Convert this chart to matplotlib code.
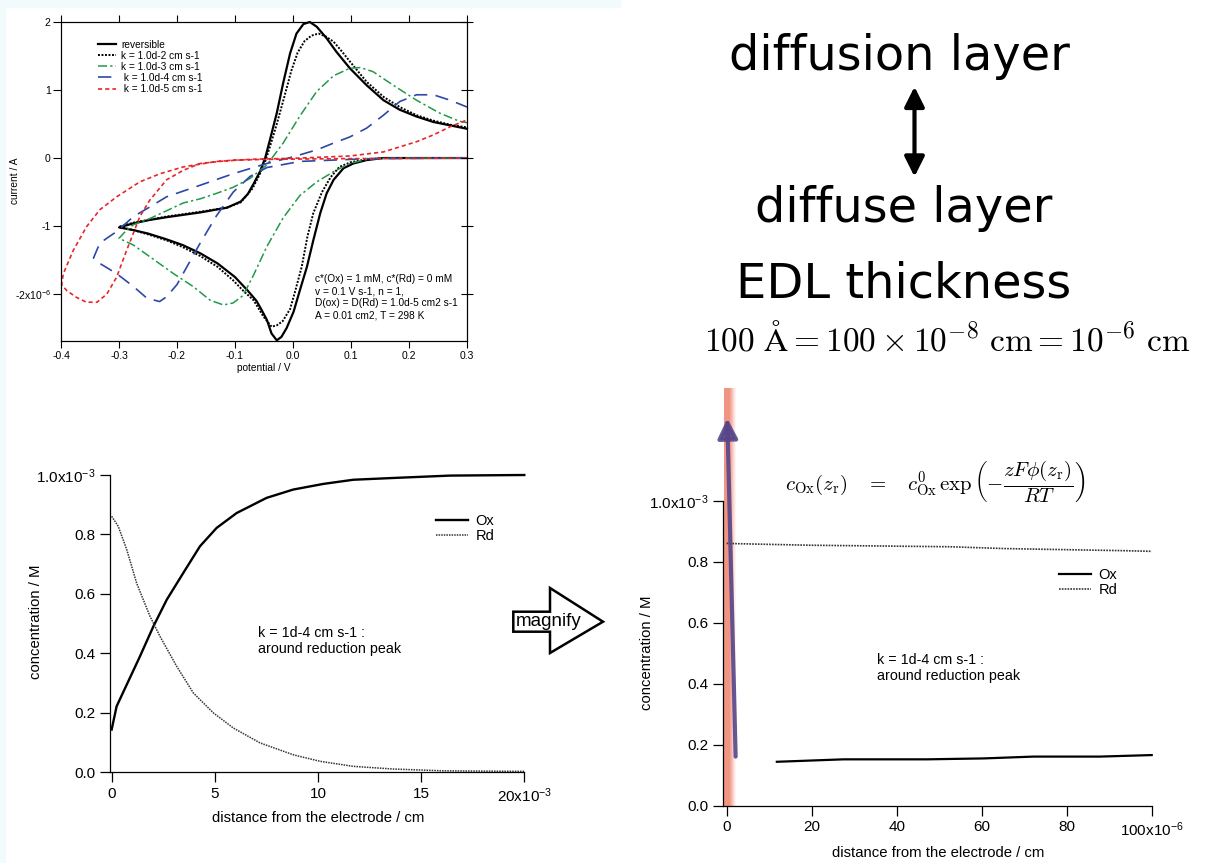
import matplotlib
matplotlib.use('Agg')
import matplotlib.pyplot as plt
from matplotlib.patches import Polygon, Rectangle, FancyArrowPatch

plt.rcParams['font.family'] = ['Liberation Sans', 'DejaVu Sans']
plt.rcParams['mathtext.fontset'] = 'custom'
plt.rcParams['mathtext.rm'] = 'Liberation Sans'
plt.rcParams['mathtext.it'] = 'Liberation Sans:italic'
plt.rcParams['axes.unicode_minus'] = False

# ---- cyclic voltammograms (potential / V, current / 1e-6 A), forward then reverse scan
E_REV = [0.300, 0.200, 0.156, 0.127, 0.104, 0.087, 0.070, 0.058, 0.047, 0.035, 0.024, 0.012, 0.001, -0.011,
         -0.020, -0.028, -0.037, -0.045, -0.055, -0.063, -0.078, -0.100, -0.130, -0.160, -0.190, -0.220, -0.250,
         -0.275, -0.300, -0.275, -0.247, -0.218, -0.160, -0.114, -0.090, -0.078, -0.068, -0.057, -0.048, -0.040,
         -0.028, -0.017, -0.005, 0.006, 0.018, 0.029, 0.041, 0.058, 0.075, 0.098, 0.127, 0.156, 0.184, 0.213,
         0.242, 0.271, 0.300]
I_REV = [0.00, 0.00, 0.00, -0.03, -0.08, -0.15, -0.32, -0.52, -0.81, -1.21, -1.60, -1.94, -2.26, -2.50,
         -2.63, -2.68, -2.58, -2.38, -2.22, -2.10, -1.95, -1.75, -1.55, -1.40, -1.28, -1.19, -1.11,
         -1.06, -1.02, -0.96, -0.91, -0.87, -0.80, -0.73, -0.64, -0.53, -0.38, -0.20, 0.00, 0.26,
         0.66, 1.10, 1.54, 1.83, 1.97, 2.00, 1.93, 1.76, 1.56, 1.32, 1.07, 0.85, 0.71, 0.61,
         0.53, 0.48, 0.43]

E_K2 = [0.300, 0.156, 0.127, 0.100, 0.080, 0.065, 0.050, 0.035, 0.025, 0.015, 0.004, -0.005, -0.018, -0.028,
        -0.037, -0.051, -0.068, -0.086, -0.103, -0.130, -0.160, -0.190, -0.218, -0.247, -0.275, -0.300,
        -0.275, -0.218, -0.160, -0.114, -0.090, -0.070, -0.058, -0.048, -0.040, -0.028, -0.015, -0.003,
        0.008, 0.020, 0.032, 0.044, 0.056, 0.070, 0.085, 0.098, 0.127, 0.156, 0.184, 0.213, 0.242, 0.271, 0.300]
I_K2 = [0.00, 0.00, -0.02, -0.06, -0.13, -0.28, -0.50, -0.81, -1.15, -1.60, -1.95, -2.22, -2.40, -2.46,
        -2.48, -2.33, -2.09, -1.95, -1.80, -1.60, -1.44, -1.31, -1.21, -1.13, -1.06, -1.01,
        -0.95, -0.86, -0.79, -0.73, -0.65, -0.45, -0.25, -0.05, 0.16, 0.50, 0.90, 1.28,
        1.55, 1.72, 1.80, 1.83, 1.79, 1.71, 1.56, 1.42, 1.12, 0.90, 0.75, 0.63, 0.55, 0.49, 0.45]

E_K3 = [0.300, 0.200, 0.156, 0.127, 0.098, 0.070, 0.041, 0.012, -0.017, -0.045, -0.068, -0.086, -0.103, -0.120,
        -0.143, -0.172, -0.206, -0.247, -0.275, -0.300, -0.287, -0.275, -0.247, -0.189, -0.160, -0.132, -0.103,
        -0.074, -0.045, -0.017, 0.012, 0.041, 0.070, 0.098, 0.116, 0.138, 0.173, 0.213, 0.253, 0.287, 0.300]
I_K3 = [0.00, 0.00, -0.005, -0.02, -0.08, -0.20, -0.35, -0.55, -0.88, -1.30, -1.72, -2.02, -2.13, -2.16,
        -2.09, -1.89, -1.70, -1.45, -1.28, -1.18, -1.06, -0.98, -0.89, -0.66, -0.60, -0.52, -0.43,
        -0.30, -0.10, 0.22, 0.62, 0.98, 1.21, 1.32, 1.33, 1.27, 1.07, 0.85, 0.66, 0.54, 0.52]

E_K4 = [0.300, 0.200, 0.127, 0.070, 0.012, -0.045, -0.074, -0.103, -0.132, -0.160, -0.183, -0.200, -0.218,
        -0.230, -0.252, -0.275, -0.304, -0.333, -0.344, -0.333, -0.304, -0.275, -0.247, -0.218, -0.160,
        -0.103, -0.045, 0.001, 0.041, 0.070, 0.098, 0.127, 0.156, 0.184, 0.213, 0.242, 0.271, 0.300]
I_K4 = [0.00, -0.005, -0.01, -0.03, -0.05, -0.14, -0.27, -0.50, -0.85, -1.25, -1.60, -1.86, -2.04,
        -2.11, -2.06, -1.89, -1.70, -1.55, -1.47, -1.25, -1.08, -0.86, -0.72, -0.57, -0.40,
        -0.23, -0.08, 0.02, 0.12, 0.22, 0.31, 0.44, 0.63, 0.83, 0.93, 0.93, 0.85, 0.75]

E_K5 = [0.300, 0.070, -0.045, -0.103, -0.160, -0.189, -0.218, -0.247, -0.264, -0.287, -0.304, -0.321, -0.338,
        -0.356, -0.373, -0.390, -0.399, -0.396, -0.379, -0.356, -0.333, -0.304, -0.264, -0.229, -0.189,
        -0.132, -0.074, 0.012, 0.098, 0.156, 0.213, 0.242, 0.271, 0.300]
I_K5 = [0.00, -0.01, -0.02, -0.03, -0.08, -0.18, -0.32, -0.62, -0.86, -1.36, -1.75, -2.00, -2.12,
        -2.12, -2.05, -1.95, -1.86, -1.70, -1.36, -1.01, -0.76, -0.57, -0.35, -0.23, -0.13,
        -0.05, -0.02, 0.00, 0.03, 0.09, 0.24, 0.34, 0.46, 0.56]

CV_LABELS = ['reversible', 'k = 1.0d-2 cm s-1', 'k = 1.0d-3 cm s-1', ' k = 1.0d-4 cm s-1', ' k = 1.0d-5 cm s-1']
CV_TICKS_X = [-0.4, -0.3, -0.2, -0.1, 0.0, 0.1, 0.2, 0.3]
CV_TICKS_Y = [-2, -1, 0, 1, 2]
CV_TICKLABELS_Y = ['-2x10$^{-6}$', '-1', '0', '1', '2']

# ---- concentration profiles (distance in 1e-3 cm, concentration in 1e-3 M)
X_WIDE_OX = [0, 0.24, 0.73, 1.37, 2.02, 2.67, 3.47, 4.28, 5.09, 6.06, 7.51, 8.80, 10.26, 11.71, 13.65, 16.4, 20]
C_WIDE_OX = [0.143, 0.221, 0.294, 0.389, 0.490, 0.580, 0.670, 0.760, 0.822, 0.872, 0.923, 0.951, 0.970,
             0.984, 0.990, 0.998, 1.0]
X_WIDE_RD = [0, 0.32, 0.73, 1.21, 1.86, 2.34, 3.15, 3.96, 4.93, 5.90, 7.19, 8.80, 10.10, 11.71, 13.65, 16.07, 20]
C_WIDE_RD = [0.861, 0.827, 0.749, 0.636, 0.524, 0.457, 0.356, 0.266, 0.199, 0.148, 0.098, 0.058, 0.036,
             0.019, 0.010, 0.004, 0.002]

# magnified view (distance in 1e-6 cm)
X_NEAR_OX = [11.8, 27.5, 47.1, 60.4, 72.2, 87.8, 100]
C_NEAR_OX = [0.144, 0.152, 0.152, 0.155, 0.161, 0.161, 0.166]
X_NEAR_RD = [0, 6, 19.6, 52.5, 65.5, 94, 100]
C_NEAR_RD = [0.860, 0.858, 0.854, 0.849, 0.843, 0.836, 0.834]

CONC_TICKS = [0.0, 0.2, 0.4, 0.6, 0.8, 1.0]
CONC_TICKLABELS = ['0.0', '0.2', '0.4', '0.6', '0.8', '1.0x10$^{-3}$']
WIDE_TICKS = [0, 5, 10, 15, 20]
WIDE_TICKLABELS = ['0', '5', '10', '15', '20x10$^{-3}$']
NEAR_TICKS = [0, 20, 40, 60, 80, 100]
NEAR_TICKLABELS = ['0', '20', '40', '60', '80', '100x10$^{-6}$']

W, H = 1211, 863


def fx(px):
    return px / W


def fy(py):
    return 1 - py / H


fig = plt.figure(figsize=(W / 100, H / 100), dpi=100)

# pale frame of the pasted screenshots
fig.patches.append(Rectangle((0, 0), fx(5), 1, transform=fig.transFigure, color='#f1fbfb', zorder=0))
fig.patches.append(Rectangle((0, fy(7)), fx(620), 7 / H, transform=fig.transFigure,
                             color='#f1fbfb', zorder=0))

# ================= cyclic voltammogram =================
ax1 = fig.add_axes([fx(61), fy(341), fx(406), 319 / H])
styles = [
    dict(color='black', lw=1.6, ls='-'),
    dict(color='black', lw=1.4, ls=(0, (1, 0.8))),
    dict(color='#22994a', lw=1.1, ls=(0, (6, 2, 1.5, 2))),
    dict(color='#2c48a8', lw=1.2, ls=(0, (8, 5))),
    dict(color='#e8262a', lw=1.2, ls=(0, (2.5, 1.8))),
]
curves = [(E_REV, I_REV), (E_K2, I_K2), (E_K3, I_K3), (E_K4, I_K4), (E_K5, I_K5)]
handles = []
for (e, i), st, lab in zip(curves, styles, CV_LABELS):
    h, = ax1.plot(e, i, label=lab, clip_on=False, **st)
    handles.append(h)

ax1.set_xlim(-0.4, 0.3)
ax1.set_ylim(-2.69, 2.0)
ax1.set_xticks(CV_TICKS_X)
ax1.set_xticklabels([f'{v:.1f}' for v in CV_TICKS_X])
ax1.set_yticks(CV_TICKS_Y)
ax1.set_yticklabels(CV_TICKLABELS_Y)
ax1.tick_params(axis='x', top=True, direction='out', length=5, width=0.8, labelsize=7.5, pad=2)
ax1.tick_params(axis='y', direction='out', length=5.5, width=0.8, labelsize=7.5, pad=2)
for s in ax1.spines.values():
    s.set_linewidth(0.8)
ax1r = ax1.twinx()
ax1r.set_ylim(ax1.get_ylim())
ax1r.set_yticks(CV_TICKS_Y)
ax1r.tick_params(axis='y', direction='inout', length=9, width=0.8, labelright=False)

ax1.legend(handles=handles, loc='upper left', bbox_to_anchor=(fx(98), fy(40)),
           bbox_transform=fig.transFigure, frameon=False, fontsize=7.3, handlelength=1.8,
           handletextpad=0.5, labelspacing=0.1, borderpad=0, borderaxespad=0)

fig.text(fx(315), fy(274), 'c*(Ox) = 1 mM, c*(Rd) = 0 mM\nv = 0.1 V s-1, n = 1,\n'
         'D(ox) = D(Rd) = 1.0d-5 cm2 s-1\nA = 0.01 cm2, T = 298 K',
         fontsize=7.3, ha='left', va='top', linespacing=1.25)
fig.text(fx(15), fy(181), 'current / A', rotation=90, fontsize=7.3, ha='center', va='center')
fig.text(fx(264), fy(368), 'potential / V', fontsize=7.3, ha='center', va='center')


# ================= concentration profiles =================
def conc_axes(rect, xlim, ticks, ticklabels):
    ax = fig.add_axes(rect)
    ax.set_xlim(*xlim)
    ax.set_ylim(0, 1.0)
    ax.spines['top'].set_visible(False)
    ax.spines['right'].set_visible(False)
    for s in ('left', 'bottom'):
        ax.spines[s].set_linewidth(0.9)
    ax.set_xticks(ticks)
    ax.set_xticklabels(ticklabels)
    ax.set_yticks(CONC_TICKS)
    ax.set_yticklabels(CONC_TICKLABELS)
    ax.tick_params(direction='out', length=7.5, width=0.9, labelsize=11, pad=3)
    return ax


ax2 = conc_axes([fx(110), fy(772), fx(414.3), 297 / H], (-0.08, 20), WIDE_TICKS, WIDE_TICKLABELS)
ox2, = ax2.plot(X_WIDE_OX, C_WIDE_OX, color='black', lw=1.7, clip_on=False)
rd2, = ax2.plot(X_WIDE_RD, C_WIDE_RD, color='#333333', lw=1.1, ls=(0, (1, 0.7)), clip_on=False)
ax2.legend([ox2, rd2], ['Ox', 'Rd'], loc='upper left', bbox_to_anchor=(fx(436), fy(514)),
           bbox_transform=fig.transFigure, frameon=False, fontsize=10.5, handlelength=2.2,
           handletextpad=0.5, labelspacing=0.05, borderpad=0, borderaxespad=0)
fig.text(fx(258), fy(641), 'k = 1d-4 cm s-1 :\naround reduction peak', fontsize=10.3,
         ha='left', va='center', linespacing=1.2)
fig.text(fx(36), fy(622), 'concentration / M', rotation=90, fontsize=10.7, ha='center', va='center')
fig.text(fx(318), fy(818), 'distance from the electrode / cm', fontsize=10.7, ha='center', va='center')

ax3 = conc_axes([fx(723.3), fy(805.7), fx(428.4), 305 / H], (-0.8, 100), NEAR_TICKS, NEAR_TICKLABELS)
ox3, = ax3.plot(X_NEAR_OX, C_NEAR_OX, color='black', lw=1.6, clip_on=False)
rd3, = ax3.plot(X_NEAR_RD, C_NEAR_RD, color='#333333', lw=1.2, ls=(0, (1, 0.7)), clip_on=False)
ax3.legend([ox3, rd3], ['Ox', 'Rd'], loc='upper left', bbox_to_anchor=(fx(1059), fy(568)),
           bbox_transform=fig.transFigure, frameon=False, fontsize=10.5, handlelength=2.2,
           handletextpad=0.5, labelspacing=0.05, borderpad=0, borderaxespad=0)
fig.text(fx(877), fy(668), 'k = 1d-4 cm s-1 :\naround reduction peak', fontsize=10.3,
         ha='left', va='center', linespacing=1.2)
fig.text(fx(647), fy(653), 'concentration / M', rotation=90, fontsize=10.7, ha='center', va='center')
fig.text(fx(938), fy(853), 'distance from the electrode / cm', fontsize=10.7, ha='center', va='center')

# red band marking the double-layer region, with the purple arrow
band_left, band_right, band_top = -0.64, 2.42, 1.37
n = 24
for k in range(n):
    t = k / (n - 1)
    alpha = 0.9 if t < 0.45 else 0.9 * (1 - (t - 0.45) / 0.55) ** 1.3
    x0 = band_left + (band_right - band_left) * k / n
    ax3.add_patch(Rectangle((x0, 0), (band_right - band_left) / n, band_top, color='#f08a76',
                            alpha=alpha, lw=0, clip_on=False, zorder=1))
ax3.annotate('', xy=(0.14, 1.27), xytext=(2.1, 0.161), xycoords='data',
             arrowprops=dict(arrowstyle='-|>', color='#55458a', lw=3, alpha=0.9,
                             mutation_scale=30, shrinkA=0, shrinkB=0), annotation_clip=False, zorder=3)

fig.text(fx(935), fy(482),
         r'$c_{\rm Ox}(z_{\rm r})\quad=\quad c^{0}_{\rm Ox}\,\exp\left(-\dfrac{zF\phi(z_{\rm r})}{RT}\right)$',
         math_fontfamily='cm', fontsize=15, ha='center', va='center')

# ================= magnify arrow =================
pts = [(513.3, 611.7), (550, 611.7), (550, 588), (603, 621.7), (550, 653), (550, 631.7), (513.3, 631.7)]
fig.patches.append(Polygon([(fx(a), fy(b)) for a, b in pts], closed=True, transform=fig.transFigure,
                           facecolor='white', edgecolor='black', lw=1.8, zorder=5))
fig.text(fx(516), fy(621), 'magnify', fontsize=13.5, ha='left', va='center', zorder=6)

# ================= top-right text =================
fig.text(fx(899), fy(70), 'diffusion layer', family='DejaVu Sans', fontsize=34.5,
         ha='center', va='baseline')
fig.text(fx(904), fy(222), 'diffuse layer', family='DejaVu Sans', fontsize=34.5,
         ha='center', va='baseline')
fig.text(fx(904), fy(297), 'EDL thickness', family='DejaVu Sans', fontsize=34.5,
         ha='center', va='baseline')
fig.patches.append(FancyArrowPatch(
    (fx(914.5), fy(176.7)), (fx(914.5), fy(86.7)), transform=fig.transFigure,
    arrowstyle='<|-|>', mutation_scale=30, lw=3, color='black', shrinkA=0, shrinkB=0))
fig.text(fx(947), fy(350), r'$100\ \mathrm{\AA} = 100 \times 10^{-8}\ \mathrm{cm} = 10^{-6}\ \mathrm{cm}$',
         math_fontfamily='cm', fontsize=24, ha='center', va='baseline')

fig.savefig('out.png', dpi=100)
